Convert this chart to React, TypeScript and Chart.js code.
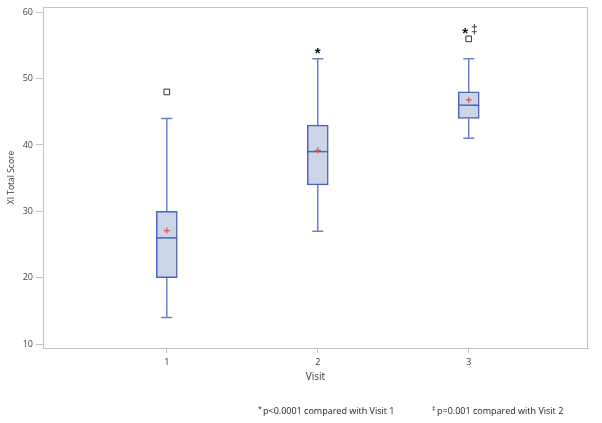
import React, { useEffect, useRef } from "react";
import { Chart, registerables } from "chart.js";

Chart.register(...registerables);

// ---- data ----
const visits = [1, 2, 3];
const whiskerLow = [14, 27, 41];
const q1 = [20, 34, 44];
const median = [26, 39, 46];
const q3 = [30, 43, 48];
const whiskerHigh = [44, 53, 53];
const means = [27.1, 39.2, 46.8];
const outlierVisit = [1, 3];
const outlierValue = [48, 56];
const sigStar = ["", "*", "*"];
const sigDagger = ["", "", "\u2021"];
const yTickValues = [10, 20, 30, 40, 50, 60];
const footnoteMarks = ["*", "\u2021"];
const footnoteTexts = ["p<0.0001 compared with Visit 1", "p=0.001 compared with Visit 2"];

const BOX_FILL = "#cbd5e7";
const BOX_BORDER = "#4a64b6";
const WHISKER = "#6a80c8";
const MEAN_RED = "#e0524f";
const AXIS_GRAY = "#c2c2c2";
const FONT = "'Open Sans', 'Liberation Sans', sans-serif";

const boxPlugin = {
  id: "boxExtras",
  beforeDatasetsDraw(chart: any) {
    const { ctx, scales } = chart;
    const x = scales.x, y = scales.y;
    ctx.save();
    ctx.strokeStyle = WHISKER;
    ctx.lineWidth = 1.5;
    visits.forEach((v, i) => {
      const px = x.getPixelForValue(v);
      const lo = y.getPixelForValue(whiskerLow[i]);
      const a = y.getPixelForValue(q1[i]);
      const b = y.getPixelForValue(q3[i]);
      const hi = y.getPixelForValue(whiskerHigh[i]);
      ctx.beginPath();
      ctx.moveTo(px, lo); ctx.lineTo(px, a);
      ctx.moveTo(px, b); ctx.lineTo(px, hi);
      ctx.moveTo(px - 5.5, lo); ctx.lineTo(px + 5.5, lo);
      ctx.moveTo(px - 5.5, hi); ctx.lineTo(px + 5.5, hi);
      ctx.stroke();
    });
    ctx.restore();
  },
  afterDatasetDraw(chart: any, args: any) {
    if (args.index !== 0) return;
    const { ctx, scales } = chart;
    const x = scales.x, y = scales.y;
    ctx.save();
    ctx.strokeStyle = BOX_BORDER;
    ctx.lineWidth = 1.5;
    visits.forEach((v, i) => {
      const px = x.getPixelForValue(v);
      const my = y.getPixelForValue(median[i]);
      ctx.beginPath();
      ctx.moveTo(px - 10.5, my); ctx.lineTo(px + 10.5, my);
      ctx.stroke();
    });
    ctx.restore();
  },
  afterDraw(chart: any) {
    const { ctx, scales, chartArea } = chart;
    const x = scales.x, y = scales.y;
    ctx.save();
    // frame top / right
    ctx.strokeStyle = AXIS_GRAY;
    ctx.lineWidth = 1;
    ctx.beginPath();
    ctx.moveTo(chartArea.left, chartArea.top + 0.5);
    ctx.lineTo(chartArea.right - 0.5, chartArea.top + 0.5);
    ctx.lineTo(chartArea.right - 0.5, chartArea.bottom);
    ctx.stroke();

    // significance marks
    visits.forEach((v, i) => {
      const px = x.getPixelForValue(v);
      let top = whiskerHigh[i];
      outlierVisit.forEach((ov, k) => { if (ov === v && outlierValue[k] > top) top = outlierValue[k]; });
      const ty = y.getPixelForValue(top) - 10;
      const hasDag = sigDagger[i] !== "";
      if (sigStar[i]) {
        ctx.fillStyle = "#111";
        ctx.font = "bold 15px 'Liberation Sans', sans-serif";
        ctx.textAlign = "center";
        ctx.textBaseline = "alphabetic";
        ctx.fillText(sigStar[i], hasDag ? px - 3.5 : px, ty + 9);
      }
      if (hasDag) {
        ctx.fillStyle = "#222";
        ctx.font = "12px 'Liberation Sans', sans-serif";
        ctx.textAlign = "center";
        ctx.textBaseline = "alphabetic";
        ctx.fillText(sigDagger[i], px + 5.5, ty + 4.5);
      }
    });

    // footnotes
    const fx = [258, 432];
    const fy = 411;
    footnoteTexts.forEach((t, i) => {
      ctx.fillStyle = "#222";
      ctx.textAlign = "left";
      ctx.textBaseline = "middle";
      ctx.font = `7px ${FONT}`;
      ctx.fillText(footnoteMarks[i], fx[i], fy - 2);
      ctx.font = `9px ${FONT}`;
      ctx.fillText(t, fx[i] + 5, fy);
    });
    ctx.restore();
  },
};

export default function App() {
  const ref = useRef<HTMLCanvasElement | null>(null);
  useEffect(() => {
    if (!ref.current) return;
    const chart = new Chart(ref.current, {
      type: "bar",
      data: {
        datasets: [
          {
            type: "bar",
            data: visits.map((v, i) => ({ x: v, y: [q1[i], q3[i]] })) as any,
            backgroundColor: BOX_FILL,
            borderColor: BOX_BORDER,
            borderWidth: 1.5,
            borderSkipped: false,
            barThickness: 21,
            order: 3,
          } as any,
          {
            type: "scatter",
            data: visits.map((v, i) => ({ x: v, y: means[i] })),
            pointStyle: "cross",
            radius: 3,
            borderColor: MEAN_RED,
            borderWidth: 1.2,
            order: 1,
          } as any,
          {
            type: "scatter",
            data: outlierVisit.map((v, i) => ({ x: v, y: outlierValue[i] })),
            pointStyle: "rect",
            radius: 4,
            backgroundColor: "#ffffff",
            borderColor: "#333333",
            borderWidth: 1,
            order: 2,
          } as any,
        ],
      },
      options: {
        animation: false,
        responsive: false,
        layout: { padding: { top: 7, right: 14, bottom: 35, left: 0 } },
        plugins: { legend: { display: false }, tooltip: { enabled: false } },
        scales: {
          x: {
            type: "linear",
            offset: false,
            min: 0.18,
            max: 3.79,
            afterBuildTicks: (s: any) => { s.ticks = visits.map((v) => ({ value: v })); },
            afterFit: (s: any) => { s.height = 40; s.paddingLeft = 0; s.paddingRight = 0; },
            ticks: { color: "#333", font: { family: FONT, size: 9 }, padding: 4, callback: (v: any) => String(v) },
            grid: { offset: false, drawOnChartArea: false, drawTicks: true, tickLength: 5, color: AXIS_GRAY },
            border: { color: AXIS_GRAY, width: 1 },
            title: { display: true, text: "Visit", color: "#333", font: { family: FONT, size: 10 }, padding: { top: 2, bottom: 5 } },
          },
          y: {
            type: "linear",
            min: 9.4,
            max: 60.8,
            afterBuildTicks: (s: any) => { s.ticks = yTickValues.map((v) => ({ value: v })); },
            afterFit: (s: any) => { s.width = 43; s.paddingTop = 0; s.paddingBottom = 0; },
            ticks: { color: "#444", font: { family: FONT, size: 9 }, padding: 3 },
            grid: { drawOnChartArea: false, drawTicks: true, tickLength: 7, color: AXIS_GRAY },
            border: { color: AXIS_GRAY, width: 1 },
            title: { display: true, text: "XI Total Score", color: "#333", font: { family: FONT, size: 8.5 }, padding: { top: 6, bottom: 0 } },
          },
        },
      } as any,
      plugins: [boxPlugin],
    });
    return () => chart.destroy();
  }, []);
  return (
    <div style={{ position: "fixed", left: 0, top: 0, width: 602, height: 423, background: "#fff" }}>
      <canvas ref={ref} width={602} height={423} />
    </div>
  );
}
